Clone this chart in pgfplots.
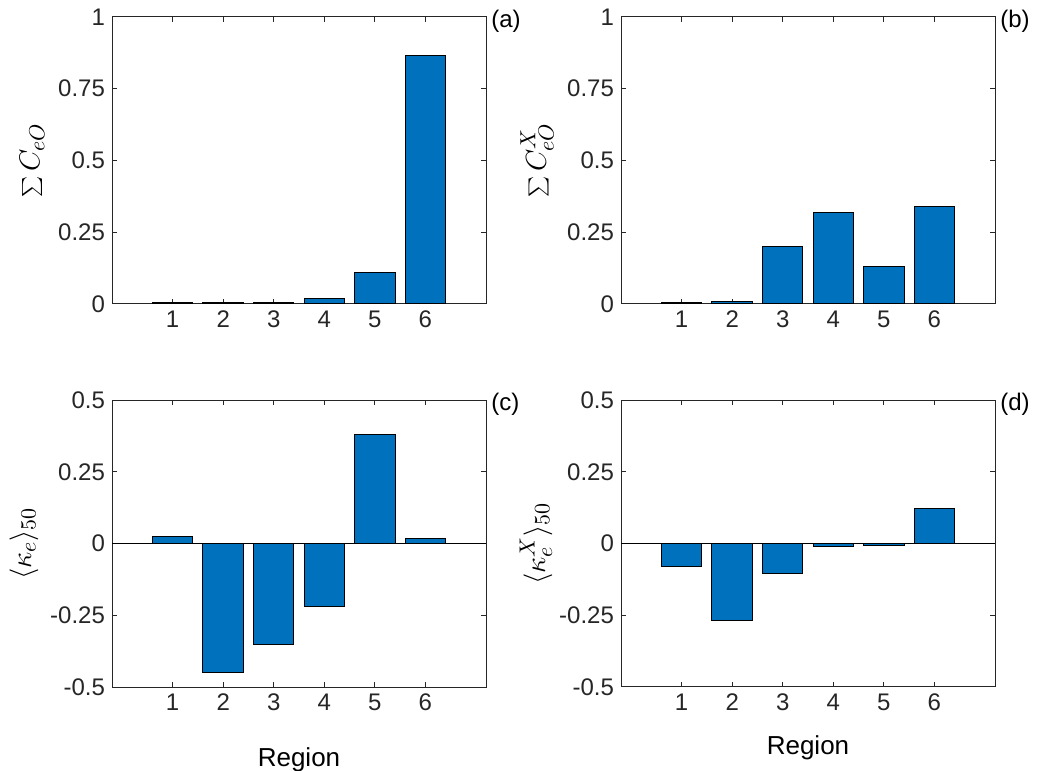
\documentclass[border=0pt]{standalone}
\usepackage{fontspec}
\setmainfont{Liberation Sans}
\usepackage{pgfplots}
\pgfplotsset{compat=1.18}
\definecolor{mblue}{RGB}{0,114,189}
\definecolor{axgray}{RGB}{38,38,38}
\pgfplotsset{
  common/.style={
    anchor=south west,
    scale only axis,
    width=187pt, height=143.5pt,
    xmin=-0.2, xmax=7.2,
    xtick={1,2,3,4,5,6},
    xticklabels={1,2,3,4,5,6},
    ybar, bar width=0.8,
    axis line style={axgray, line width=0.5pt},
    every tick/.style={axgray, line width=0.5pt},
    tick align=inside,
    major tick length=2.5pt,
    tick label style={font=\fontsize{12}{14}\selectfont, text=axgray},
    /pgf/number format/assume math mode=true,
    xlabel style={font=\fontsize{13}{15}\selectfont, at={(axis description cs:0.5,0)}, anchor=north},
    ylabel style={font=\fontsize{15.5}{17}\selectfont, at={(axis description cs:0,0.5)}, anchor=center},
    clip=false,
  },
  mybar/.style={fill=mblue, draw=black, line width=0.5pt},
}
\begin{document}
\begin{tikzpicture}
\useasboundingbox (0,0) rectangle (518.5pt,385pt);
% (a)
\begin{axis}[common, at={(56pt,233pt)},
  ymin=0, ymax=1, ytick={0,0.25,0.5,0.75,1}, yticklabels={0,0.25,0.5,0.75,1},
  ylabel={$\sum C_{eO}$}, ylabel style={yshift=40pt}]
\addplot[mybar] coordinates {(1,0.005) (2,0.005) (3,0.005) (4,0.018) (5,0.109) (6,0.865)};
\node[anchor=north west, font=\fontsize{12}{14}\selectfont, inner sep=0pt] at ([xshift=2.5pt,yshift=3.5pt]rel axis cs:1,1) {(a)};
\end{axis}
% (b)
\begin{axis}[common, at={(310.5pt,233pt)},
  ymin=0, ymax=1, ytick={0,0.25,0.5,0.75,1}, yticklabels={0,0.25,0.5,0.75,1},
  ylabel={$\sum C_{eO}^{X}$}, ylabel style={yshift=42pt}]
\addplot[mybar] coordinates {(1,0.004) (2,0.009) (3,0.199) (4,0.32) (5,0.13) (6,0.338)};
\node[anchor=north west, font=\fontsize{12}{14}\selectfont, inner sep=0pt] at ([xshift=2.5pt,yshift=3.5pt]rel axis cs:1,1) {(b)};
\end{axis}
% (c)
\begin{axis}[common, at={(56pt,41.5pt)},
  ymin=-0.5, ymax=0.5, ytick={-0.5,-0.25,0,0.25,0.5}, yticklabels={-0.5,-0.25,0,0.25,0.5},
  ylabel={$\langle \kappa_e \rangle_{50}$}, ylabel style={yshift=44pt},
  xlabel={Region}, xlabel style={yshift=-27pt}]
\addplot[mybar] coordinates {(1,0.025) (2,-0.449) (3,-0.352) (4,-0.22) (5,0.381) (6,0.017)};
\draw[black, line width=0.5pt] (axis cs:-0.2,0) -- (axis cs:7.2,0);
\node[anchor=north west, font=\fontsize{12}{14}\selectfont, inner sep=0pt] at ([xshift=2.5pt,yshift=3.5pt]rel axis cs:1,1) {(c)};
\end{axis}
% (d)
\begin{axis}[common, at={(310.5pt,41.5pt)},
  ymin=-0.5, ymax=0.5, ytick={-0.5,-0.25,0,0.25,0.5}, yticklabels={-0.5,-0.25,0,0.25,0.5},
  ylabel={$\langle \kappa_e^{X} \rangle_{50}$}, ylabel style={yshift=42.5pt},
  xlabel={Region}, xlabel style={yshift=-21pt}]
\addplot[mybar] coordinates {(1,-0.081) (2,-0.268) (3,-0.106) (4,-0.012) (5,-0.007) (6,0.123)};
\draw[black, line width=0.5pt] (axis cs:-0.2,0) -- (axis cs:7.2,0);
\node[anchor=north west, font=\fontsize{12}{14}\selectfont, inner sep=0pt] at ([xshift=2.5pt,yshift=3.5pt]rel axis cs:1,1) {(d)};
\end{axis}
\end{tikzpicture}
\end{document}
